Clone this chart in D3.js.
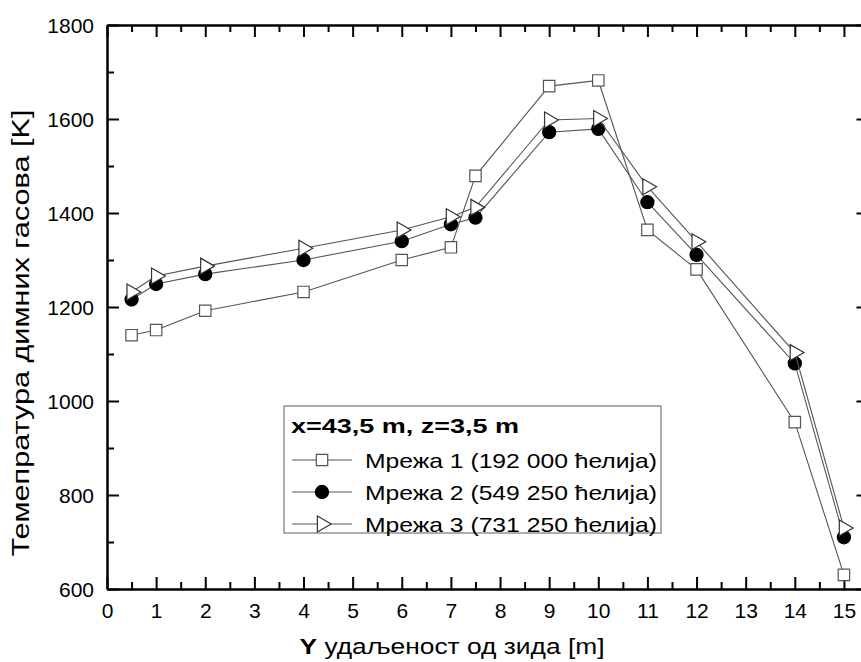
<!DOCTYPE html>
<html>
<head>
<meta charset="utf-8">
<script src="https://cdn.jsdelivr.net/npm/d3@7"></script>
<style>
  html, body { margin: 0; padding: 0; background: #fff; }
  svg { display: block; font-family: "Liberation Sans", Arial, sans-serif; }
</style>
</head>
<body>
<svg id="chart" width="861" height="662"></svg>
<script>
// Distance from the wall [m]
const distances = [0.5, 1, 2, 4, 6, 7, 7.5, 9, 10, 11, 12, 14, 15];

// Flue gas temperature [K] for the three meshes
const mesh1 = [1140, 1151, 1192, 1232, 1300, 1327, 1479, 1670, 1682, 1364, 1280, 955, 630];
const mesh2 = [1216, 1249, 1270, 1300, 1340, 1376, 1390, 1572, 1579, 1423, 1311, 1080, 710];
const mesh3 = [1232, 1266, 1287, 1325, 1364, 1392, 1412, 1598, 1601, 1456, 1339, 1103, 730];

const seriesNames = [
  "Мрежа 1 (192 000 ћелија)",
  "Мрежа 2 (549 250 ћелија)",
  "Мрежа 3 (731 250 ћелија)"
];
const seriesMarkers = ["square", "circle", "triangle"];

const xTicks = [0, 1, 2, 3, 4, 5, 6, 7, 8, 9, 10, 11, 12, 13, 14, 15];
const yTicks = [600, 800, 1000, 1200, 1400, 1600, 1800];
const legendTitle = "x=43,5 m, z=3,5 m";
const yTitle = "Темепратура димних гасова [K]";
const xTitleBold = "Y";
const xTitleRest = " удаљеност од зида [m]";

const svg = d3.select("#chart");
const frame = { left: 107, right: 868.5, top: 25, bottom: 589 };

const x = d3.scaleLinear().domain([0, 15.5]).range([frame.left, frame.right]);
const y = d3.scaleLinear().domain([600, 1800]).range([frame.bottom, frame.top]);

const xMinor = d3.range(0.5, 15.5, 1);
const yMinor = d3.range(700, 1800, 200);

const axes = svg.append("g").attr("class", "axes");

// Each side gets a major and a minor tick set, all pointing inward
function drawAxis(axisFn, scale, major, minor, fmt, tx, ty) {
  const groups = [];
  [[major, 12, fmt], [minor, 7, ""]].forEach(([vals, size, f]) => {
    const a = axisFn(scale).tickValues(vals).tickSizeInner(size).tickSizeOuter(0).tickFormat(f);
    const g = axes.append("g").attr("transform", `translate(${tx},${ty})`).call(a);
    g.select(".domain").attr("stroke", "#000").attr("stroke-width", 2);
    g.selectAll(".tick line").attr("stroke", "#000").attr("stroke-width", 2);
    g.selectAll(".tick text").attr("fill", "#000").attr("font-size", 21);
    groups.push(g);
  });
  return groups[0];
}

const bottomAxis = drawAxis(d3.axisTop, x, xTicks, xMinor, d3.format("d"), 0, frame.bottom);
drawAxis(d3.axisBottom, x, xTicks, xMinor, "", 0, frame.top);
const leftAxis = drawAxis(d3.axisRight, y, yTicks, yMinor, d3.format("d"), frame.left, 0);
drawAxis(d3.axisLeft, y, yTicks, yMinor, "", frame.right, 0);

// Tick labels sit outside the frame
bottomAxis.selectAll(".tick text")
  .attr("y", 29).attr("dy", 0).attr("text-anchor", "middle");
leftAxis.selectAll(".tick text")
  .attr("x", -13).attr("dy", "0.35em").attr("text-anchor", "end");

// Axis titles
svg.append("text")
  .attr("transform", "translate(29,333) rotate(-90)")
  .attr("text-anchor", "middle")
  .attr("font-size", 23)
  .attr("textLength", 447)
  .attr("lengthAdjust", "spacingAndGlyphs")
  .text(yTitle);

const xt = svg.append("text")
  .attr("x", 452).attr("y", 654)
  .attr("text-anchor", "middle")
  .attr("font-size", 22)
  .attr("textLength", 305)
  .attr("lengthAdjust", "spacingAndGlyphs");
xt.append("tspan").attr("font-weight", "bold").text(xTitleBold);
xt.append("tspan").text(xTitleRest);

// Marker shapes
const markerStyles = {
  square:   { path: d3.symbol(d3.symbolSquare, 130)(), fill: "#fff", stroke: "#555", rotate: 0 },
  circle:   { path: d3.symbol(d3.symbolCircle, 135)(), fill: "#000", stroke: "#000", rotate: 0 },
  triangle: { path: d3.symbol(d3.symbolTriangle, 110)(), fill: "#fff", stroke: "#333", rotate: 90 }
};

function drawMarker(g, kind, px, py) {
  const m = markerStyles[kind];
  g.append("path")
    .attr("d", m.path)
    .attr("transform", `translate(${px},${py}) rotate(${m.rotate})`)
    .attr("fill", m.fill)
    .attr("stroke", m.stroke)
    .attr("stroke-width", 1.2);
}

const allSeries = [mesh1, mesh2, mesh3];
const line = d3.line().x(d => x(d[0])).y(d => y(d[1]));

const plot = svg.append("g").attr("class", "plot");
allSeries.forEach((vals, i) => {
  const pts = distances.map((d, j) => [d, vals[j]]);
  const g = plot.append("g");
  g.append("path")
    .attr("d", line(pts))
    .attr("fill", "none")
    .attr("stroke", "#555")
    .attr("stroke-width", 1.1);
  pts.forEach(p => drawMarker(g, seriesMarkers[i], x(p[0]), y(p[1])));
});

// Legend
const lg = svg.append("g").attr("class", "legend");
lg.append("rect")
  .attr("x", 284).attr("y", 406).attr("width", 377).attr("height", 127)
  .attr("fill", "#fff").attr("stroke", "#777").attr("stroke-width", 1.2);
lg.append("text")
  .attr("x", 291).attr("y", 433)
  .attr("font-size", 20).attr("font-weight", "bold")
  .attr("textLength", 228)
  .attr("lengthAdjust", "spacingAndGlyphs")
  .text(legendTitle);

seriesNames.forEach((name, i) => {
  const cy = 460 + i * 32;
  lg.append("line")
    .attr("x1", 292).attr("x2", 352).attr("y1", cy).attr("y2", cy)
    .attr("stroke", "#555").attr("stroke-width", 1.1);
  drawMarker(lg, seriesMarkers[i], 322, cy);
  lg.append("text")
    .attr("x", 365).attr("y", cy + 8)
    .attr("font-size", 21)
    .attr("textLength", 292)
    .attr("lengthAdjust", "spacingAndGlyphs")
    .text(name);
});
</script>
</body>
</html>
